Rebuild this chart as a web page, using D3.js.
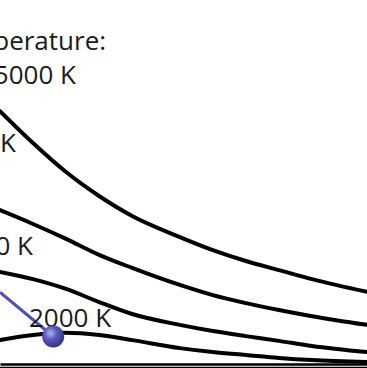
<!DOCTYPE html>
<html><head><meta charset="utf-8">
<script src="https://cdn.jsdelivr.net/npm/d3@7"></script>
<style>html,body{margin:0;padding:0;background:#fff;overflow:hidden}</style>
</head><body>
<svg id="c" width="367" height="368"></svg>
<script>
// wavelength grid (μm) and curve values (relative radiance)
const wavelengths = [0.50, 0.68, 0.86, 1.04, 1.22, 1.48, 1.66, 1.84, 2.02, 2.20, 2.50];
const curve5000 = [6.94, 6.06, 5.26, 4.60, 4.05, 3.47, 3.11, 2.81, 2.56, 2.31, 1.96];
const curve4000 = [4.21, 3.83, 3.42, 2.98, 2.62, 2.15, 1.87, 1.65, 1.46, 1.29, 1.05];
const curve3000 = [2.51, 2.31, 2.04, 1.68, 1.35, 1.05, 0.88, 0.74, 0.61, 0.47, 0.30];
const curve2000 = [0.63, 0.77, 0.83, 0.77, 0.63, 0.41, 0.30, 0.22, 0.14, 0.08, 0.03];
const pointer = [[0.50, 1.95], [0.79, 0.73]];
const labels = [
  {text: "Temperature:", x: 1.078, y: 8.63},
  {text: "5000 K", x: 0.914, y: 7.69},
  {text: "4000 K", x: 0.587, y: 5.81},
  {text: "3000 K", x: 0.680, y: 2.97}
];
const label2000 = {text: "2000 K", x: 0.658, y: 0.99};

const svg = d3.select("#c");
const x = d3.scaleLinear().domain([0.5, 2.5]).range([0, 367]);
const y = d3.scaleLinear().domain([0, 10]).range([363, 0]);

const defs = svg.append("defs");
const g = defs.append("radialGradient").attr("id","ball").attr("cx","38%").attr("cy","35%").attr("r","65%");
g.append("stop").attr("offset","0%").attr("stop-color","#b4b4ec");
g.append("stop").attr("offset","45%").attr("stop-color","#5a5ab8");
g.append("stop").attr("offset","100%").attr("stop-color","#33338f");

const line = d3.line().x((d,i)=>x(wavelengths[i])).y(d=>y(d)).curve(d3.curveMonotoneX);
[curve5000, curve4000, curve3000, curve2000].forEach(c=>{
  svg.append("path").attr("d", line(c)).attr("fill","none")
    .attr("stroke","#000").attr("stroke-width",4).attr("stroke-linecap","round");
});

// baseline axis (double rule)
const axis = d3.axisBottom(x).tickValues([]).tickSizeOuter(0);
svg.append("g").attr("transform",`translate(0,${y(0)+1})`).call(axis)
  .select(".domain").attr("stroke","#000").attr("stroke-width",2.4);
svg.append("line").attr("x1",x(0.5)).attr("x2",x(2.5)).attr("y1",y(0)+4.6).attr("y2",y(0)+4.6)
  .attr("stroke","#000").attr("stroke-width",1.5);

const fnt = "'Open Sans', sans-serif";
labels.forEach(l=>{
  svg.append("text").attr("x",x(l.x)).attr("y",y(l.y)).attr("text-anchor","end")
    .attr("font-family",fnt).attr("font-size",26).attr("fill","#1a1a1a").text(l.text);
});

svg.append("path").attr("d", d3.line().x(d=>x(d[0])).y(d=>y(d[1]))(pointer))
  .attr("stroke","#5050b4").attr("stroke-width",3).attr("fill","none");

svg.append("text").attr("x",x(label2000.x)).attr("y",y(label2000.y)).attr("text-anchor","start")
  .attr("font-family",fnt).attr("font-size",26).attr("fill","#1a1a1a").text(label2000.text);

svg.append("circle").attr("cx",x(pointer[1][0])).attr("cy",y(pointer[1][1])).attr("r",11)
  .attr("fill","url(#ball)");
</script>
</body></html>
